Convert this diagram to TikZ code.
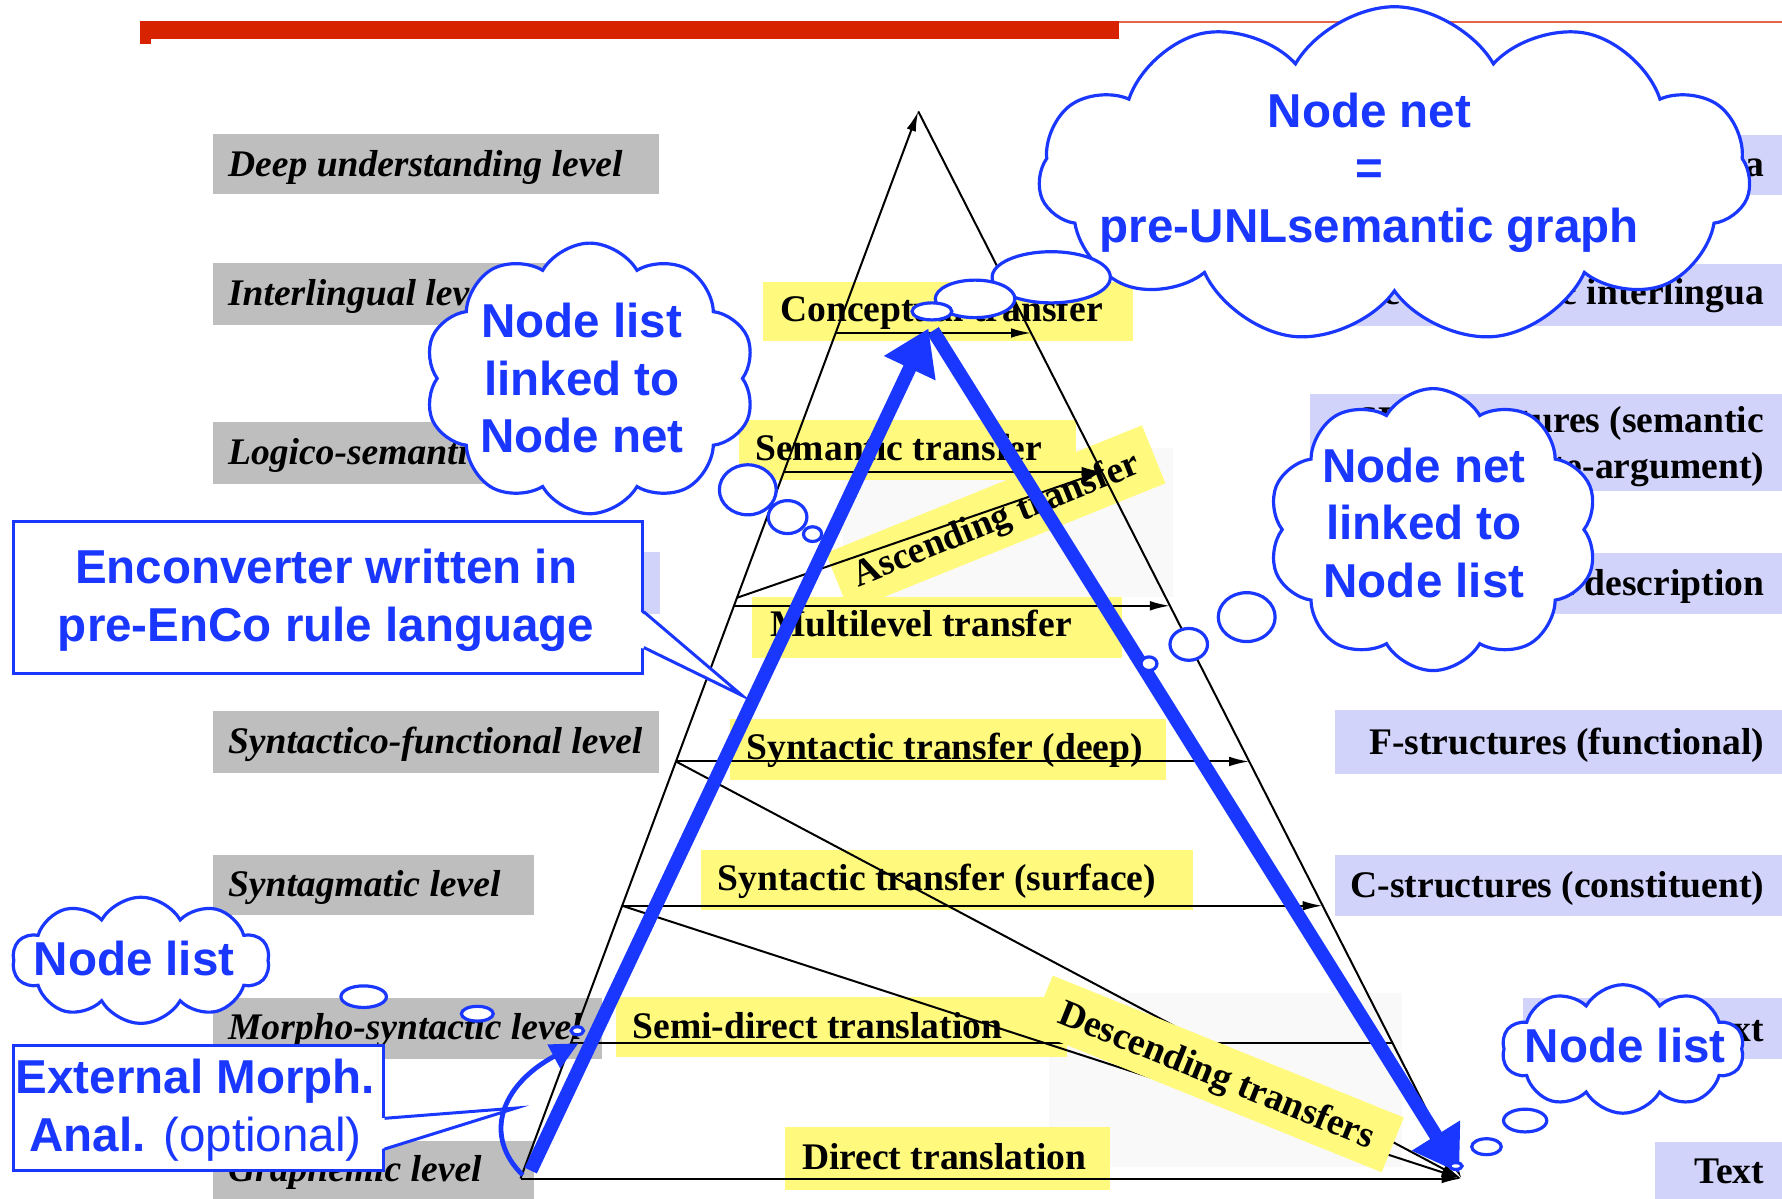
\documentclass[tikz,border=0pt]{standalone}
\usepackage{fontspec}
\setmainfont{Liberation Serif}
\setsansfont{Liberation Sans}
\usetikzlibrary{arrows.meta,shapes.symbols,shapes.geometric,calc}
\definecolor{tred}{RGB}{215,35,0}
\definecolor{lvlgrey}{RGB}{190,190,190}
\definecolor{lav}{RGB}{210,211,251}
\definecolor{ylw}{RGB}{255,250,125}
\definecolor{faint}{RGB}{249,249,249}
\definecolor{ublue}{RGB}{25,55,255}
\tikzset{
  lvltxt/.style={font=\fontsize{9.4}{11}\selectfont\bfseries\itshape, inner sep=0pt},
  strtxt/.style={font=\fontsize{9.4}{11}\selectfont\bfseries, inner sep=0pt},
  ylab/.style={fill=ylw, font=\fontsize{9.4}{11}\selectfont\bfseries, inner sep=0pt, text height=0.22cm, text depth=0cm},
  edge/.style={line width=0.5pt, -{Latex[length=5pt,width=2.4pt]}},
  plain/.style={line width=0.5pt},
  flow/.style={ublue, line width=3.4pt, -{Triangle[length=11pt,width=13.5pt]}},
  morph/.style={ublue, line width=1.2pt, -{Triangle[length=7pt,width=6.5pt]}},
  thought/.style={cloud, cloud puffs=10, cloud puff arc=120, cloud ignores aspect, draw=ublue, fill=white, line width=0.8pt, inner sep=0pt},
  bubble/.style={ellipse, draw=ublue, fill=white, line width=0.8pt, inner sep=0pt},
  callbox/.style={draw=ublue, fill=white, line width=0.75pt, inner sep=0pt},
  callline/.style={ublue, line width=0.75pt, line join=miter},
  bluetxt/.style={font=\fontsize{11.9}{14.4}\selectfont\sffamily\bfseries, text=ublue, align=center, inner sep=0pt}
}
\begin{document}
\begin{tikzpicture}[x=0.01cm,y=-0.01cm]
\clip (0,0) rectangle (1568,1055);
%title bar
\fill[tred] (123,18.5) rectangle (985,34.5);
\fill[tred] (123,34.5) rectangle (133,39);
\draw[tred!70, line width=0.5pt] (985,19.5) -- (1568,19.5);
%levels on the left
\fill[lvlgrey] (187,118) rectangle (580,171);
\node[lvltxt, anchor=base west] (deep) at (200,155) {Deep understanding level};
\fill[lvlgrey] (187,231) rectangle (480,286);
\node[lvltxt, anchor=base west] (inter) at (200,269) {Interlingual level};
\fill[lvlgrey] (187,371) rectangle (560,426);
\node[lvltxt, anchor=base west] (logico) at (200,409) {Logico-semantic level};
\fill[lav] (187,486) rectangle (581,540);
\fill[lvlgrey] (187,626) rectangle (580,680);
\node[lvltxt, anchor=base west] (synfunc) at (200,663) {Syntactico-functional level};
\fill[lvlgrey] (187,752) rectangle (470,805);
\node[lvltxt, anchor=base west] (syntagm) at (200,789) {Syntagmatic level};
\fill[lvlgrey] (187,878) rectangle (530,932);
\node[lvltxt, anchor=base west] (morpho) at (200,915) {Morpho-syntactic level};
\fill[lvlgrey] (187,1004) rectangle (470,1057);
\node[lvltxt, anchor=base west] (graphem) at (200,1040) {Graphemic level};
%structures on the right
\fill[lav] (1330,119) rectangle (1580,172);
\node[strtxt, anchor=base east] (onto) at (1553,155) {Ontological interlingua};
\fill[lav] (1180,232) rectangle (1580,287);
\node[strtxt, anchor=base east] (semling) at (1553,268) {Semantico-linguistic interlingua};
\fill[lav] (1153,347) rectangle (1580,432);
\node[strtxt, anchor=base east] (spa) at (1553,381) {SPA-structures (semantic};
\node[strtxt, anchor=base east] (spb) at (1553,421) {\& predicate-argument)};
\fill[lav] (1300,487) rectangle (1580,540);
\node[strtxt, anchor=base east] (multidesc) at (1553,524) {Multilevel description};
\fill[lav] (1175,625) rectangle (1580,681);
\node[strtxt, anchor=base east] (fstruct) at (1553,664) {F-structures (functional)};
\fill[lav] (1175,752) rectangle (1580,806);
\node[strtxt, anchor=base east] (cstruct) at (1553,790) {C-structures (constituent)};
\fill[lav] (1340,878) rectangle (1580,932);
\node[strtxt, anchor=base east] (tagged) at (1553,916) {Tagged text};
\fill[lav] (1456,1005) rectangle (1580,1060);
\node[strtxt, anchor=base east] (text) at (1553,1041) {Text};
%faint panels
\fill[faint] (742,394) rectangle (1032,525);
\fill[faint] (923,874) rectangle (1234,1027);
%transfer labels
\fill[ylw] (671,248) rectangle (997,300);
\node[strtxt, anchor=base west] (concept) at (686,283) {Conceptual transfer};
\fill[ylw] (650,370) rectangle (947,422);
\node[strtxt, anchor=base west] (semant) at (664,405) {Semantic transfer};
\fill[ylw] (662,525) rectangle (987,579);
\node[strtxt, anchor=base west] (multil) at (677,560) {Multilevel transfer};
\fill[ylw] (642,633) rectangle (1026,686);
\node[strtxt, anchor=base west] (syndeep) at (656,668) {Syntactic transfer (deep)};
\fill[ylw] (617,748) rectangle (1050,801);
\node[strtxt, anchor=base west] (synsurf) at (631,784) {Syntactic transfer (surface)};
\fill[ylw] (542,877) rectangle (939,930);
\node[strtxt, anchor=base west] (semidir) at (556,914) {Semi-direct translation};
\fill[ylw] (691,992) rectangle (977,1047);
\node[strtxt, anchor=base west] (direct) at (705,1029) {Direct translation};
\node[ylab, rotate=22, minimum width=3cm, minimum height=0.55cm] (ascend) at (876,456) {Ascending transfer};
%pyramid
\coordinate (A) at (808,98);
\coordinate (BL) at (458,1037);
\coordinate (BR) at (1286,1037);
\foreach \t/\n in {0.2077/ct,0.3376/st,0.4558/as,0.4633/ml,0.6092/sd,0.7444/ss,0.8733/sm}{
  \coordinate (\n-l) at ($(A)!\t!(BL)$);
  \coordinate (\n-r) at ($(A)!\t!(BR)$);
}
\draw[edge] (BL) -- (A);
\draw[edge] (A) -- (BR);
\draw[edge] (BL) -- (BR);
\draw[edge] (ct-l) -- (ct-r);
\draw[edge] (st-l) -- (st-r);
\draw[edge] (as-l) -- (st-r);
\draw[edge] (ml-l) -- (ml-r);
\draw[edge] (sd-l) -- (sd-r);
\draw[edge] (sd-l) -- (BR);
\draw[edge] (ss-l) -- (ss-r);
\draw[edge] (ss-l) -- (BR);
\draw[plain] (sm-l) -- (sm-r);
\node[ylab, rotate=-22, minimum width=3.33cm, minimum height=0.52cm] (descend) at (1071,945) {Descending transfers};
%blue flows
\coordinate (upfoot) at (467,1030);
\coordinate (uptip) at (817,289);
\coordinate (downtop) at (821,291);
\coordinate (downtip) at (1284,1032);
\draw[flow] (upfoot) -- (uptip);
\draw[flow] (downtop) -- (downtip);
\coordinate (morphfoot) at (460,1034);
\coordinate (morphtip) at (509,918);
\draw[morph] (morphfoot) .. controls (425,1000) and (440,955) .. (morphtip);
%clouds
\node[thought, cloud puffs=11, minimum width=6.26cm, minimum height=2.96cm] (netcloud) at (1227,154) {};
\node[bluetxt] (nettxt) at (1205,152) {Node net\\=\\pre-UNLsemantic graph};
\node[bubble, minimum width=1.04cm, minimum height=0.45cm] (b1a) at (925,244) {};
\node[bubble, minimum width=0.70cm, minimum height=0.33cm] (b1b) at (858,263) {};
\node[bubble, minimum width=0.35cm, minimum height=0.15cm] (b1c) at (820,274) {};
\node[thought, minimum width=2.91cm, minimum height=2.38cm] (listcloud) at (519,333) {};
\node[bluetxt] (listtxt) at (512,333) {Node list\\linked to\\Node net};
\node[bubble, minimum width=0.50cm, minimum height=0.44cm] (b2a) at (658,431) {};
\node[bubble, minimum width=0.34cm, minimum height=0.29cm] (b2b) at (693,455) {};
\node[bubble, minimum width=0.16cm, minimum height=0.13cm] (b2c) at (715,470) {};
\node[thought, minimum width=2.90cm, minimum height=2.48cm] (linkcloud) at (1261,466) {};
\node[bluetxt] (linktxt) at (1253,460) {Node net\\linked to\\Node list};
\node[bubble, minimum width=0.50cm, minimum height=0.43cm] (b3a) at (1097,543) {};
\node[bubble, minimum width=0.33cm, minimum height=0.28cm] (b3b) at (1046,567) {};
\node[bubble, minimum width=0.14cm, minimum height=0.12cm] (b3c) at (1011,584) {};
\node[thought, minimum width=2.26cm, minimum height=1.11cm] (srccloud) at (124,845) {};
\node[bluetxt] (srctxt) at (118,843) {Node list};
\node[bubble, minimum width=0.40cm, minimum height=0.19cm] (b4a) at (320,877) {};
\node[bubble, minimum width=0.28cm, minimum height=0.13cm] (b4b) at (420,892) {};
\node[bubble, minimum width=0.11cm, minimum height=0.07cm] (b4c) at (508,907) {};
\node[thought, minimum width=2.13cm, minimum height=1.13cm] (tgtcloud) at (1428,923) {};
\node[bluetxt] (tgttxt) at (1430,920) {Node list};
\node[bubble, minimum width=0.38cm, minimum height=0.20cm] (b5a) at (1342,986) {};
\node[bubble, minimum width=0.26cm, minimum height=0.14cm] (b5b) at (1308,1009) {};
\node[bubble, minimum width=0.11cm, minimum height=0.06cm] (b5c) at (1281,1026) {};
%callouts
\node[callbox, minimum width=5.53cm, minimum height=1.34cm] (enco) at (288.5,526) {};
\coordinate (encotip) at (653,612);
\coordinate (enco1) at ($(enco.north east)!0.59!(enco.south east)$);
\coordinate (enco2) at ($(enco.north east)!0.82!(enco.south east)$);
\fill[white] ([xshift=-0.8pt]enco1) -- (encotip) -- ([xshift=-0.8pt]enco2) -- cycle;
\draw[callline] (enco1) -- (encotip) -- (enco2);
\node[bluetxt] (encotxt) at (287,528) {Enconverter written in\\pre-EnCo rule language};
\node[callbox, minimum width=3.25cm, minimum height=1.10cm] (extbox) at (174.5,975) {};
\coordinate (exttip) at (454,975);
\coordinate (ext1) at ($(extbox.north east)!0.58!(extbox.south east)$);
\coordinate (ext2) at ($(extbox.north east)!0.82!(extbox.south east)$);
\fill[white] ([xshift=-0.8pt]ext1) -- (exttip) -- ([xshift=-0.8pt]ext2) -- cycle;
\draw[callline] (ext1) -- (exttip) -- (ext2);
\node[bluetxt] (exttxt) at (172,977) {External Morph.\\Anal. {\mdseries(optional)}};
\end{tikzpicture}
\end{document}
